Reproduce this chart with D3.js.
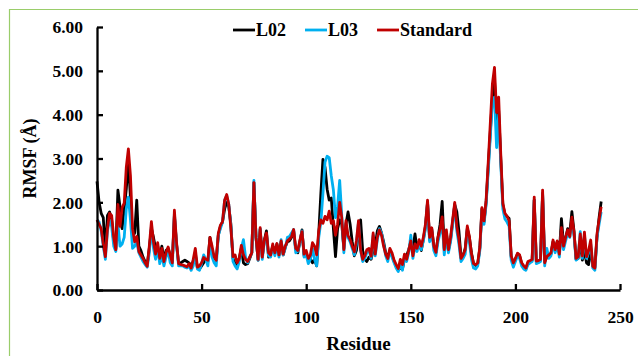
<!DOCTYPE html>
<html><head><meta charset="utf-8">
<script src="https://cdn.jsdelivr.net/npm/d3@7"></script>
<style>body{margin:0;background:#fff}svg{display:block}</style>
</head><body>
<svg id="c" width="638" height="356"></svg>
<script>
// ---- data ----
const residueStart = 0;
const l02 = [
2.48,2.00,1.75,1.65,0.85,1.70,1.78,1.60,1.10,0.95,
2.28,1.90,1.40,1.85,2.30,2.95,2.10,1.20,1.30,2.05,
1.00,0.90,0.75,0.65,0.58,0.95,1.40,1.20,0.95,1.00,
0.75,1.00,0.70,0.90,0.95,0.78,0.65,1.70,1.05,0.62,
0.62,0.65,0.68,0.65,0.62,0.55,0.65,0.80,0.50,0.48,
0.55,0.62,0.70,0.65,1.20,0.90,0.72,0.70,1.25,1.45,
1.55,1.85,2.00,1.90,1.50,0.72,0.60,0.55,0.72,0.95,
0.62,0.58,0.60,0.72,0.85,2.45,1.20,0.68,1.38,0.75,
1.14,1.35,0.75,0.82,1.00,0.85,1.05,0.80,1.10,0.80,
0.98,1.10,1.12,1.20,1.35,0.92,0.85,1.10,1.37,0.78,
0.80,0.72,0.70,0.62,0.70,0.55,1.30,2.20,2.98,2.80,
2.30,2.05,2.10,1.40,0.76,1.40,1.60,1.50,0.95,1.50,
1.78,1.50,1.10,0.78,0.90,1.30,1.60,0.90,0.70,0.65,
0.75,0.70,0.90,1.00,1.35,1.45,1.30,1.10,0.85,0.75,
0.90,0.80,0.65,0.55,0.46,0.50,0.48,0.70,0.78,0.92,
1.10,0.95,1.28,0.95,1.10,0.90,1.15,1.45,2.00,1.15,
1.40,1.00,0.85,1.20,1.50,2.02,0.95,1.30,0.90,1.15,
1.55,1.95,1.78,1.35,0.75,0.78,0.95,1.40,1.20,0.85,
0.60,0.56,0.60,0.95,1.85,1.55,2.00,2.80,3.60,4.40,
4.80,3.80,4.10,3.00,1.95,1.72,1.68,1.63,0.75,0.60,
0.70,0.82,0.78,0.60,0.52,0.48,0.62,0.65,0.68,2.05,
0.64,0.65,0.68,2.20,0.65,0.75,0.78,0.82,1.10,0.95,
1.10,0.85,1.63,1.05,1.18,1.40,1.30,1.79,1.35,0.70,
0.72,1.10,0.68,0.90,0.62,0.58,0.95,0.55,0.52,1.20,
1.65,2.02];
const l03 = [
1.60,1.55,1.35,1.00,0.70,1.35,1.60,1.45,1.00,0.88,
1.50,1.00,1.05,1.20,1.85,2.12,1.60,0.95,1.00,1.10,
0.85,0.75,0.65,0.58,0.52,0.85,1.45,0.95,0.70,0.95,
0.60,0.80,0.55,0.75,0.90,0.62,0.55,1.75,1.05,0.55,
0.55,0.55,0.52,0.50,0.55,0.45,0.55,0.85,0.48,0.45,
0.60,0.80,0.70,0.55,1.10,0.75,0.62,0.55,1.25,1.40,
1.55,2.05,2.15,1.95,1.45,0.65,0.55,0.48,0.65,0.95,
1.15,0.75,0.62,0.75,0.85,2.50,1.20,0.68,1.40,0.70,
1.10,1.25,0.78,0.75,1.00,0.78,1.00,0.75,1.15,0.80,
0.95,1.20,1.22,1.30,1.38,0.85,0.88,1.10,1.35,0.75,
0.80,0.60,0.70,0.95,0.70,0.55,1.20,1.55,2.20,2.92,
3.05,3.02,2.60,2.28,1.65,1.90,2.50,1.70,0.85,1.50,
1.20,1.10,0.95,0.80,1.05,1.55,0.90,0.65,0.72,0.85,
0.92,0.72,1.25,0.78,1.15,1.40,1.30,1.05,0.78,0.65,
0.90,0.75,0.62,0.50,0.42,0.60,0.45,0.75,0.65,0.85,
1.25,0.72,1.00,0.88,1.10,0.92,1.12,1.40,2.00,1.10,
1.35,0.90,0.78,1.10,1.30,1.55,0.80,1.25,0.85,1.10,
1.50,1.95,1.35,1.05,0.65,0.72,0.82,1.35,1.10,0.70,
0.50,0.48,0.55,0.90,1.80,1.50,1.95,2.70,3.50,4.30,
4.40,3.25,4.00,2.90,1.85,1.62,1.55,1.45,0.68,0.52,
0.65,0.78,0.72,0.55,0.48,0.45,0.58,0.62,0.65,2.05,
0.60,0.62,0.65,2.20,0.55,0.95,0.72,0.78,1.05,0.85,
1.05,0.75,1.35,0.92,1.12,1.30,1.20,1.55,1.25,0.68,
0.72,1.33,0.72,1.25,0.72,0.85,1.05,0.50,0.45,1.20,
1.50,1.78];
const standard = [
1.60,1.50,1.40,1.05,0.76,1.40,1.75,1.70,1.20,0.92,
1.95,1.45,1.88,1.98,2.80,3.22,2.60,1.40,1.10,1.22,
0.88,0.80,0.72,0.62,0.54,1.00,1.56,1.10,0.82,1.08,
0.72,0.95,0.65,0.85,0.98,0.80,0.62,1.82,1.10,0.60,
0.58,0.57,0.55,0.53,0.60,0.50,0.70,0.95,0.52,0.55,
0.62,0.74,0.70,0.68,1.20,1.00,0.76,0.68,1.30,1.48,
1.56,2.05,2.18,1.95,1.40,0.76,0.80,0.62,0.72,1.02,
0.80,0.70,0.65,0.75,0.85,2.45,1.20,0.70,1.42,0.75,
1.14,1.30,0.85,0.80,1.05,0.85,1.06,0.80,1.12,0.82,
1.00,1.12,1.16,1.22,1.38,0.95,0.90,1.14,1.33,0.82,
0.90,0.72,0.80,1.08,1.00,0.80,1.35,1.60,1.52,1.68,
1.60,1.80,1.52,1.58,1.25,1.50,2.00,1.65,0.92,1.58,
1.24,1.15,1.00,0.87,1.12,1.58,0.92,0.70,0.78,0.92,
0.95,0.77,1.30,0.82,1.20,1.37,1.25,1.00,0.82,0.72,
0.95,0.85,0.68,0.58,0.49,0.70,0.58,0.82,0.70,0.90,
1.12,0.78,1.05,0.95,1.15,1.00,1.20,1.50,2.05,1.20,
1.42,1.00,0.86,1.20,1.40,1.67,0.92,1.37,0.92,1.20,
1.60,2.00,1.45,1.15,0.72,0.80,0.92,1.46,1.22,0.82,
0.60,0.58,0.62,0.98,1.88,1.58,2.05,2.90,3.80,4.70,
5.08,4.05,4.40,3.10,1.98,1.75,1.68,1.58,0.78,0.62,
0.72,0.84,0.80,0.62,0.55,0.50,0.65,0.67,0.70,2.12,
0.66,0.67,0.70,2.28,0.62,0.76,0.80,0.85,1.14,0.92,
1.12,0.82,1.42,1.00,1.20,1.37,1.22,1.66,1.33,0.72,
0.76,1.28,0.78,1.32,0.76,0.90,1.14,0.54,0.50,1.28,
1.60,1.90];
const seriesNames = ["L02", "L03", "Standard"];
const seriesColors = ["#000000", "#00B0F0", "#C00000"];
const xTicks = [0, 50, 100, 150, 200, 250];
const yTicks = [0, 1, 2, 3, 4, 5, 6];
const xTitle = "Residue";
const yTitle = "RMSF (Å)";

// ---- layout ----
const W = 638, H = 356;
const plot = {left: 97, right: 620, top: 27, bottom: 290};
const font = "'Liberation Serif', 'Times New Roman', serif";
const svg = d3.select("#c");
svg.append("rect").attr("width", W).attr("height", H).attr("fill", "#fff");

// frame (top and left edges visible)
svg.append("path").attr("d", `M9.5,356V9.5H638`).attr("fill", "none")
  .attr("stroke", "#9acd6a").attr("stroke-width", 1.2);

const x = d3.scaleLinear().domain([0, 250]).range([plot.left, plot.right]);
const y = d3.scaleLinear().domain([0, 6]).range([plot.bottom, plot.top]);

const series = [l02, l03, standard].map((vals, i) => ({
  name: seriesNames[i], color: seriesColors[i],
  pts: vals.map((v, j) => [residueStart + j, v])
}));

const line = d3.line().x(d => x(d[0])).y(d => y(d[1]));
svg.append("g").selectAll("path").data(series).join("path")
  .attr("d", d => line(d.pts))
  .attr("fill", "none")
  .attr("stroke", d => d.color)
  .attr("stroke-width", 2.8)
  .attr("stroke-linejoin", "round");

// axes
const xAxis = svg.append("g").attr("transform", `translate(0,${plot.bottom})`)
  .call(d3.axisBottom(x).tickValues(xTicks).tickFormat(d3.format("d"))
    .tickSizeInner(-6).tickSizeOuter(0).tickPadding(21));
const yAxis = svg.append("g").attr("transform", `translate(${plot.left},0)`)
  .call(d3.axisLeft(y).tickValues(yTicks).tickFormat(d3.format(".2f"))
    .tickSizeInner(-6).tickSizeOuter(0).tickPadding(14));
[xAxis, yAxis].forEach(g => {
  g.select(".domain").attr("stroke", "#000").attr("stroke-width", 2.3);
  g.selectAll(".tick line").attr("stroke", "#000").attr("stroke-width", 2.3);
  g.selectAll(".tick text").attr("font-family", font).attr("font-weight", "bold")
    .attr("font-size", 17.5).attr("fill", "#000");
});
yAxis.selectAll(".tick text").attr("dy", "0.34em");

// titles
svg.append("text").attr("x", (plot.left + plot.right) / 2).attr("y", 349.5)
  .attr("text-anchor", "middle").attr("font-family", font).attr("font-weight", "bold")
  .attr("font-size", 19).text(xTitle);
svg.append("text").attr("transform", `translate(35.5,${(plot.top + plot.bottom) / 2}) rotate(-90)`)
  .attr("text-anchor", "middle").attr("font-family", font).attr("font-weight", "bold")
  .attr("font-size", 18).text(yTitle);

// legend
const leg = svg.append("g");
let cx = 233;
series.forEach(s => {
  leg.append("line").attr("x1", cx).attr("x2", cx + 22).attr("y1", 30).attr("y2", 30)
    .attr("stroke", s.color).attr("stroke-width", 2.8);
  const t = leg.append("text").attr("x", cx + 23).attr("y", 35.7)
    .attr("font-family", font).attr("font-weight", "bold").attr("font-size", 18).text(s.name);
  cx = cx + 23 + t.node().getComputedTextLength() + 19;
});
</script>
</body></html>
